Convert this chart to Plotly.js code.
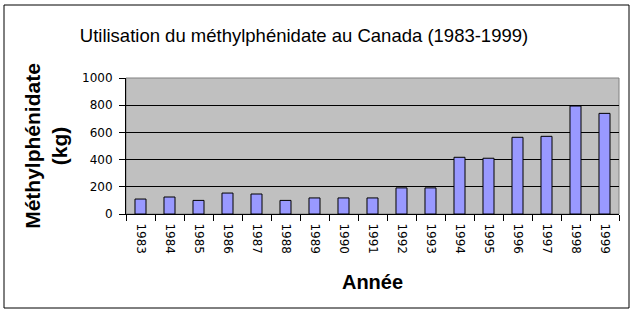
<!DOCTYPE html>
<html><head><meta charset="utf-8">
<script src="https://cdn.plot.ly/plotly-3.0.1.min.js"></script>
<style>body{margin:0;padding:0;background:#fff}#chart{width:636px;height:314px}</style>
</head><body><div id="chart"></div>
<script>
const years = ['1983','1984','1985','1986','1987','1988','1989','1990','1991','1992','1993','1994','1995','1996','1997','1998','1999'];
const kg = [110,125,100,154,147,100,118,118,118,192,192,417,410,564,571,794,740];
const yTicks = [0,200,400,600,800,1000];

const W = 636, H = 314, L = 126, R = 17, T = 78, B = 100;
const pw = W - L - R, ph = H - T - B;
const px = v => (v - L) / pw;
const py = v => (H - B - v) / ph;

const tickFont = {family: '"DejaVu Sans", sans-serif', size: 12, color: '#000'};
const trace = {
  type: 'bar', x: years, y: kg,
  marker: {color: '#9999ff', line: {color: '#000', width: 1}},
  hoverinfo: 'none'
};
const layout = {
  width: W, height: H,
  margin: {l: L, r: R, t: T, b: B},
  paper_bgcolor: '#fff', plot_bgcolor: '#c0c0c0',
  bargap: 0.62, showlegend: false,
  font: {family: 'Arial, "Liberation Sans", sans-serif', color: '#000', size: 12},
  title: {text: 'Utilisation du méthylphénidate au Canada (1983-1999)',
          font: {size: 18.5, color: '#000'}, x: px(304), xanchor: 'center', xref: 'paper',
          y: 1 - 36 / H, yanchor: 'middle'},
  xaxis: {type: 'category', tickangle: 90, ticks: 'outside', ticklen: 6, tickcolor: '#000',
          tickson: 'boundaries', showline: true, linecolor: '#000', linewidth: 1,
          showgrid: false, zeroline: false, tickfont: tickFont, ticklabelstandoff: 6,
          title: {text: 'Année', font: {size: 20, weight: 'bold'}, standoff: 22}},
  yaxis: {range: [0, 1000], tickvals: yTicks, ticktext: yTicks.map(String), ticks: 'outside', ticklen: 6,
          tickcolor: '#000', showline: true, linecolor: '#000', linewidth: 1, ticklabelstandoff: 4,
          showgrid: true, gridcolor: '#000', gridwidth: 1, zeroline: false, tickfont: tickFont,
          title: {text: 'Méthylphénidate<br>(kg)', font: {size: 21, weight: 'bold'}, standoff: 8}},
  shapes: [
    {type: 'rect', xref: 'paper', yref: 'paper', x0: 0, x1: 1, y0: 0, y1: 1,
     line: {color: '#808080', width: 1}, layer: 'below'},
    {type: 'rect', xref: 'paper', yref: 'paper', x0: px(4), x1: px(629), y0: py(308), y1: py(5),
     line: {color: '#000', width: 1}, layer: 'above'}
  ]
};
Plotly.newPlot('chart', [trace], layout, {staticPlot: true});
</script></body></html>
